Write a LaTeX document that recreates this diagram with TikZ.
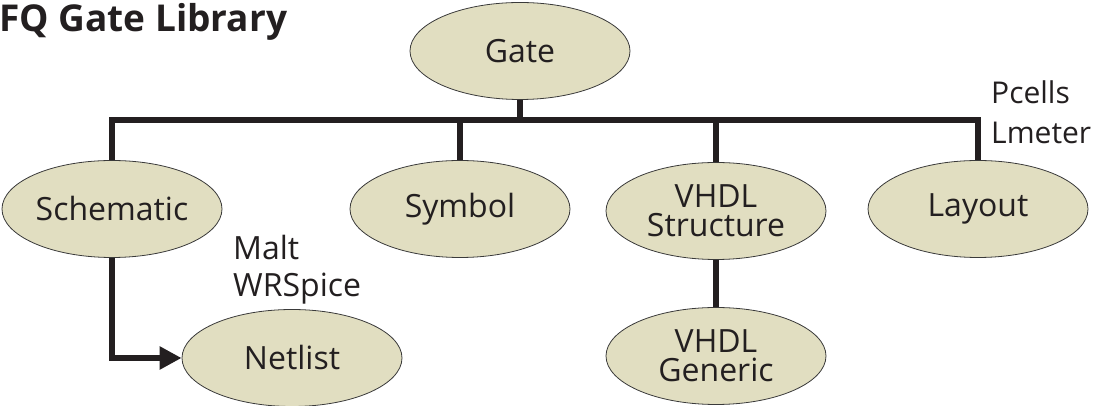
\documentclass[tikz,border=0pt]{standalone}
\usepackage{fontspec}
\setmainfont{Open Sans}
\usetikzlibrary{arrows.meta,positioning,shapes.geometric}
\definecolor{gateFill}{HTML}{E1DEC1}
\definecolor{inkBlack}{HTML}{231F20}
\definecolor{rimGray}{HTML}{3A3A3A}
\tikzset{
    view/.style={
        ellipse,
        draw=rimGray,
        line width=0.8pt,
        fill=gateFill,
        align=center,
        inner sep=0pt,
        minimum width=220pt,
        minimum height=97pt,
        font=\fontsize{32}{29}\selectfont,
        text=inkBlack
    },
    tool/.style={
        align=left,
        inner sep=0pt,
        font=\fontsize{32}{37}\selectfont,
        text=inkBlack
    },
    bus/.style={line width=5.5pt,draw=inkBlack},
    arrow/.style={-{Triangle[length=22pt,width=22pt]},line width=5.5pt,draw=inkBlack}
}

\begin{document}
\begin{tikzpicture}[x=1pt,y=1pt]
    \useasboundingbox (0,0) rectangle (1094,406);
    \node[anchor=base west,inner sep=0pt,font=\fontsize{37}{40}\bfseries\selectfont,text=inkBlack]
        (title) at (-1,374) {FQ Gate Library};

    \node[view] (gate) at (520,355) {Gate};
    \node[view] (schematic) at (112,197) {Schematic};
    \node[view] (symbol) at (460,197) {Symbol};
    \node[view] (vhdlstruct) at (716,195) {VHDL\\Structure};
    \node[view] (layout) at (978,197) {Layout};
    \node[view] (netlist) at (292,48) {Netlist};
    \node[view] (vhdlgen) at (716,50) {VHDL\\Generic};

    \node[tool,anchor=north west] (simtools) at (233,171) {Malt\\WRSpice};
    \node[tool,anchor=north west,font=\fontsize{30}{40}\selectfont] (celltools) at (991,325) {Pcells\\Lmeter};

    \coordinate (bus) at (0,286);
    \draw[bus] (schematic.north) |- (layout.north |- bus) -- (layout.north);
    \draw[bus] (gate.south) -- (gate.south |- bus);
    \draw[bus] (symbol.north) -- (symbol.north |- bus);
    \draw[bus] (vhdlstruct.north) -- (vhdlstruct.north |- bus);
    \draw[bus] (vhdlstruct.south) -- (vhdlgen.north);
    \draw[arrow] (schematic.south) |- (netlist.west);
\end{tikzpicture}
\end{document}
